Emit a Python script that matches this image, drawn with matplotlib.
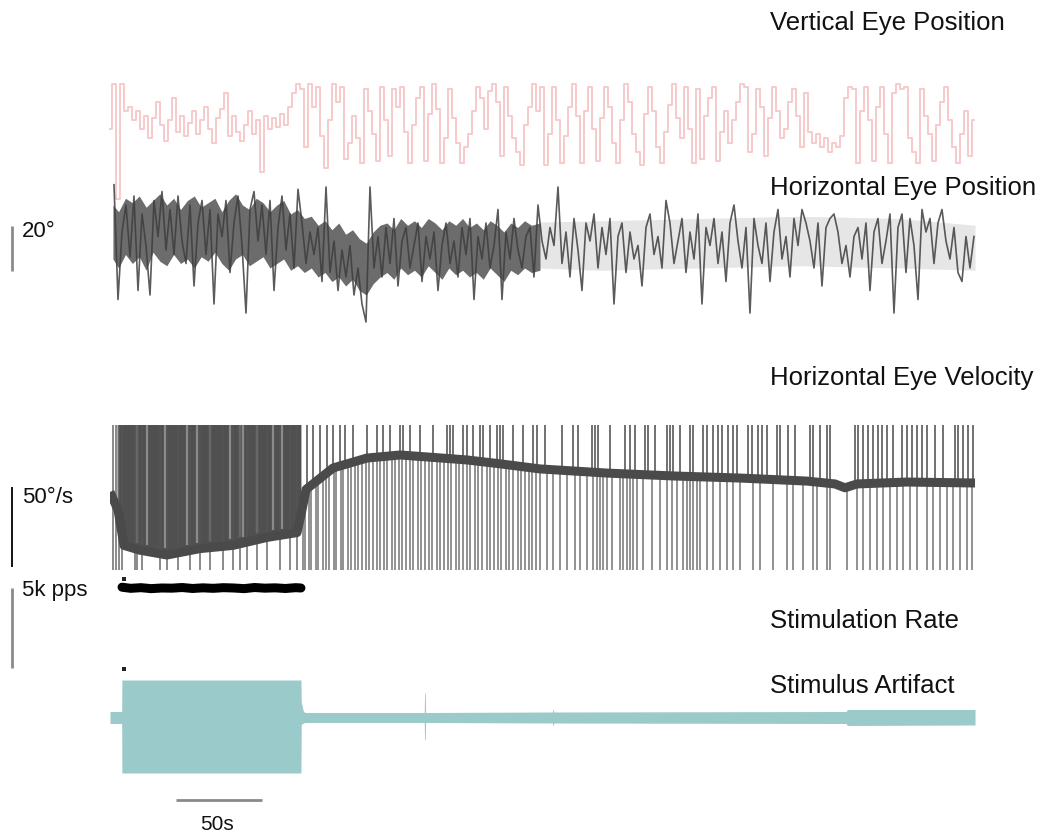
import numpy as np
import matplotlib
matplotlib.use("Agg")
import matplotlib.pyplot as plt

plt.rcParams['font.family'] = ['Liberation Sans', 'DejaVu Sans']

# ---------------- data ----------------
T_END = 505.8          # seconds spanned by the traces' axes
TRACE_END = 502.3      # last sample time of eye-position traces

# vertical eye position (deg), one sample every ~2.3 s
vert_pos = [-2, 18, -33, 18, 6, 8, 2, 6, -2, 4, -6, 3, 10, 0, -7, 2, 12, -3, 4, -5,
            1, 6, -4, 2, 8, -2, -8, 3, 7, 14, -5, 4, -3, -7, 0, 6, -4, 2, -21, 4,
            -2, 3, -1, 5, 0, 8,
            14, 18, 16, -10, 18, 8, 17, -5, -19, 2, 18, 10, 17, -15, -8, 4, -6, -17, 16, 6,
            -4, -16, 17, 2, -14, 16, 8, 17, -3, -17, 0, 12, 17, -16, 5, 18, 7, -17, -6, 16,
            3, -8, -17, -10, -4, 6, 17, 12, -2, 15, 18, 10, -14, 17, 4, -6, -12, -18, 0, 8,
            18, 6, 17, -18, -4, 17, 2, -17, -5, 8, 18, 4, -17, 6, 17, -2, -16, 3, 17, 8,
            -8, -17, 2, 18, 10, -4, -12, -18, 5, 17, 6, -10, -17, -3, 9, 18, 3, -6, 17, -2,
            -17, 16, -15, 4, 12, 17, -16, -3, 6, -8, 2, 10, 18, 17, -12, -4, 16, 8, -14, 3,
            17, 6, -6, -2, 10, 16, 4, -10, 14, -3, -8, -4, -10, -6, -12, -8, -10, -5, 12, 17,
            16, -17, 6, 17, 2, -16, 8, 17, -4, -17, 14, 18, 16, 17, -6, -12, -17, 16, 4, -4,
            -16, 0, 10, 17, 2, -10, -17, -4, 6, -14, 2]

# horizontal eye position (deg), one sample every ~2.3 s
horiz_pos = [0, 29, -22, 8, 20, -3, 24, -18, 16, 2, -20, 22, 6, 26, 0, 18, -2, 24, 4, -6,
             20, -16, 12, 22, -2, 18, -24, 16, 6, 22, -10, 12, 24, 2, -28, 18, 26, 4, 20, -2,
             22, -18, 10, 24, 0, 16, -8, 27,
             12, -6, 8, -2, 10, -14, 28, -10, 4, -18, 0, -12, 2, -20, -8, -24, -32, 28, -8, 6,
             -12, 10, -6, 14, -16, 4, 10, -8, 2, 12, -14, 6, -4, 8, -18, 2, 12, -6, 4, -12,
             10, -2, 14, -22, 6, -4, 12, -8, 2, 18, -22, 8, -4, 14, 0, -8, 6, 10, -12, 20, 4,
             -4, 10, 2, 28, -6, 8, -12, 14, 0, -18, 12, 4, 16, -8, 10, -2, 14, -24, 6, 12,
             -10, 8, -4, 2, -16, 10, 16, -2, 6, -8, 22, 12, -6, 4, 14, -10, 8, -4, 16, -24,
             10, 2, 14, -6, 8, -14, 12, 20, 4, -8, 10, -28, 14, 2, -6, 12, -14, 8, 18, -4,
             6, -12, 14, 2, 18, 12, 4, -8, 12, -16, 10, 14, 16, 8, -6, 2, -12, 6, 10, -4,
             12, -18, 8, 14, -6, 4, 16, -28, 10, 16, -10, 14, 2, -22, 18, 8, 14, -6, 12, 18,
             4, -4, 10, -10, -14, 6, -8, 6]

# envelope of the densely oscillating horizontal position (deg)
hpos_env_t = [1.7, 5, 9, 13, 17, 21, 25, 29, 33, 37, 41, 45, 49, 53, 57, 61, 65, 69, 73,
              77, 81, 85, 89, 93, 97, 101, 105, 109, 113, 117, 121, 125, 129, 133, 137,
              141, 145, 149, 153, 157, 161, 165, 169, 173, 177, 181, 185, 189, 193, 197,
              201, 205, 209, 213, 217, 221, 225, 229, 233, 237, 241, 245, 250]
hpos_env_hi = [20, 17, 23, 21, 24, 19, 22, 25, 20, 23, 18, 22, 24, 19, 21, 23, 17, 22, 25,
               20, 18, 23, 21, 17, 20, 22, 16, 18, 14, 15, 11, 13, 9, 12, 7, 9, 5, 3, 8,
               11, 12, 9, 14, 11, 13, 10, 14, 12, 9, 13, 11, 14, 10, 12, 9, 13, 11, 8, 12,
               10, 13, 11, 12]
hpos_env_lo = [-4, -8, -2, -6, -3, -9, -1, -5, -7, -2, -6, -4, -8, -3, -5, -1, -6, -9, -4,
               -2, -7, -5, -3, -8, -6, -4, -9, -7, -10, -8, -12, -10, -14, -12, -16, -13,
               -18, -20, -15, -12, -10, -13, -8, -11, -9, -12, -7, -10, -13, -8, -11, -9,
               -12, -10, -13, -8, -11, -14, -9, -11, -8, -10, -9]
hpos_env2_t = [250.0, 284.9, 343.0, 401.2, 459.3, 502.9]
hpos_env2_hi = [12.4, 13, 14, 15, 14, 11]
hpos_env2_lo = [-8, -9, -8, -7, -8, -9]

# slow-phase horizontal eye velocity (deg/s)
vel_t = [0, 4.7, 8.1, 17.4, 33.1, 52.3, 71.5, 91.3, 108.7, 111.0, 114.0, 129.7, 149.4,
         168.6, 187.8, 207.6, 226.7, 250.0, 289.0, 327.3, 366.3, 405.2, 421.5, 427.3,
         434.3, 463.4, 502.9]
vel_base = [-10.6, -22, -44, -47, -50, -46, -44, -39, -36, -25, -9, 4.4, 10.6, 12.5, 11,
            9.4, 7, 3.8, 1.2, -0.6, -1.9, -3.8, -5.6, -8, -5.6, -4.4, -5]
quick_peak = 120      # quick-phase peaks (beyond displayed range)
quick_trough = -150

# quick phases during stimulation spanning the full range (s)
stim_saccades = [1.7, 3.5, 5.2, 7.0, 14.5, 15.7, 18.6, 29.1, 33.1, 39.5, 46.5, 52.3, 58.1,
                 65.7, 71.5, 75.6, 79.7, 85.5, 91.3, 98.8, 104.7, 108.7]
stim_window = [1.7, 111.0]
# gaps (lighter strokes) among the dense quick phases during stimulation (s)
stim_gaps = [4.6, 15.7, 21.5, 32.0, 44.8, 50.6, 58.1, 69.8, 75.6, 77.3, 85.5, 94.8, 100.0]

# post-stimulation saccades: upward excursions (s)
sacc_up = [114.5, 118.0, 122.1, 126.2, 129.7, 133.7, 136.6, 141.3, 149.4, 155.2, 158.7,
           162.8, 168.6, 170.3, 174.4, 180.2, 187.8, 195.9, 197.7, 199.4, 205.2, 207.6,
           211.0, 215.1, 216.9, 220.9, 225.0, 226.7, 228.5, 234.3, 240.1, 245.9, 248.3,
           252.9, 262.8, 269.2, 272.1, 280.2, 282.0, 283.7, 290.7, 299.4, 302.3, 305.2,
           311.0, 312.8, 316.9, 323.8, 325.6, 327.3, 331.4, 337.2, 339.0, 344.8, 347.1,
           350.6, 353.5, 355.8, 359.3, 362.2, 364.5, 370.9, 373.3, 376.7, 379.1, 382.0,
           387.8, 389.5, 394.2, 398.3, 407.0, 408.7, 412.8, 416.9, 418.6, 433.1, 434.9,
           437.8, 440.7, 443.6, 446.5, 448.8, 451.7, 455.2, 460.5, 463.4, 466.3, 469.2,
           472.1, 475.0, 479.7, 484.3, 491.3, 493.0, 495.9, 498.8, 501.7]
# post-stimulation saccades: downward excursions (s)
sacc_down = [112.2, 113.4, 115.7, 116.9, 119.8, 120.9, 123.8, 125.6, 127.3, 130.2, 131.4,
             134.3, 135.5, 138.4, 140.1, 142.4, 144.2, 146.5, 148.8, 150.6, 152.9, 155.2,
             157.0, 159.3, 161.0, 164.0, 165.7, 168.0, 169.8, 172.1, 174.4, 176.2, 179.1,
             180.8, 183.1, 185.5, 187.2, 190.1, 191.9, 194.2, 196.5, 198.3, 201.2, 202.9,
             205.2, 207.6, 209.3, 212.2, 214.0, 216.3, 219.2, 220.9, 223.3, 225.6, 227.3,
             230.2, 232.0, 234.3, 237.2, 239.0, 241.3, 243.6, 245.3, 247.7,
             250.0, 254.1, 257.6, 261.6, 265.7, 270.3, 273.3, 277.3, 280.8, 283.1, 284.9,
             286.6, 289.0, 291.9, 296.5, 298.3, 300.6, 302.3, 304.1, 306.4, 309.9, 315.1,
             319.8, 323.8, 326.7, 329.7, 333.1, 335.5, 337.2, 339.0, 341.3, 343.0, 347.1,
             350.6, 354.7, 358.7, 362.2, 366.3, 373.8, 377.9, 385.5, 393.6, 397.1, 402.9,
             408.7, 411.1, 416.9, 418.6, 428.5, 434.3, 437.8, 441.9, 445.9, 449.4, 453.5,
             457.6, 461.0, 465.1, 469.2, 475.0, 478.5, 482.6, 486.6, 490.1, 494.2, 498.3,
             501.2]

# stimulation rate (pulses per second)
rate_t = [7, 12, 18, 24, 30, 36, 42, 48, 54, 60, 66, 72, 78, 84, 90, 96, 102, 108, 111]
rate_pps = [5050, 4980, 5020, 4960, 5000, 4990, 5030, 4970, 5010, 4980, 5020, 5000, 4960,
            5030, 4990, 5010, 4970, 5020, 5000]
rate_marks_t = [8.0, 8.0]
rate_marks = [5560, -60]

# stimulus artifact envelope (a.u.)
art_t = [0, 6.8, 6.9, 111.0, 111.2, 112.5, 113.5, 182.7, 182.9, 183.3, 183.5, 257.2,
         257.6, 258.0, 428.0, 428.6, 502.9]
art_hi = [0.6, 0.6, 3.75, 3.75, 1.5, 0.6, 0.5, 0.5, 2.45, 2.45, 0.5, 0.55, 0.9, 0.55,
          0.6, 0.8, 0.8]
art_lo = [-0.6, -0.6, -5.55, -5.55, -0.7, -0.55, -0.5, -0.5, -2.25, -2.25, -0.5, -0.55,
          -0.9, -0.55, -0.6, -0.8, -0.75]

# scale bars
bar_deg = 20
bar_vel = 50
bar_pps = 5000
bar_sec = 50

# ---------------- figure ----------------
W, H = 1042, 835
fig = plt.figure(figsize=(W / 100, H / 100), dpi=100)
fig.patch.set_facecolor('white')


def trace_axes(top_px, bottom_px, ylim):
    ax = fig.add_axes([110 / W, 1 - bottom_px / H, 870 / W, (bottom_px - top_px) / H])
    ax.set_xlim(0, T_END)
    ax.set_ylim(*ylim)
    ax.axis('off')
    ax.patch.set_alpha(0)
    return ax


ax_v = trace_axes(70, 210, (-37.78, 24.44))
ax_h = trace_axes(175, 335, (-37.78, 33.33))
ax_vel = trace_axes(425, 570, (-59.375, 31.25))
ax_r = trace_axes(570, 675, (-437.5, 6125))
ax_a = trace_axes(660, 790, (-7.25, 5.75))

PINK = '#f7caca'
GREY = '#3e3e3e'
TEAL = '#9bcaca'

# vertical eye position
tv = np.linspace(0, TRACE_END, len(vert_pos))
ax_v.plot(tv, vert_pos, color=PINK, lw=1.4, drawstyle='steps-mid', clip_on=False)

# horizontal eye position
th = np.linspace(0, TRACE_END, len(horiz_pos))
ax_h.fill_between(hpos_env_t, hpos_env_lo, hpos_env_hi, color='#333333', alpha=0.72, lw=0)
ax_h.fill_between(hpos_env2_t, hpos_env2_lo, hpos_env2_hi, color='#777777', alpha=0.18, lw=0)
ax_h.plot(th[1:], horiz_pos[1:], color=GREY, lw=1.2, alpha=0.85, clip_on=False)

# horizontal eye velocity
vt = np.array(vel_t)
vb = np.array(vel_base)
m = (vt >= stim_window[0]) & (vt <= stim_window[1])
ax_vel.fill_between(vt[m], vb[m], quick_peak, color='#505050', lw=0)
ax_vel.vlines(stim_gaps, np.interp(stim_gaps, vel_t, vel_base) + 4, quick_peak,
              color='#9a9a9a', lw=1.6, alpha=0.8)
ax_vel.vlines(stim_saccades, quick_trough, quick_peak, color='#555555', lw=1.2, alpha=0.8)
base_up = np.interp(sacc_up, vel_t, vel_base)
base_dn = np.interp(sacc_down, vel_t, vel_base)
ax_vel.vlines(sacc_up, base_up, quick_peak, color='#3f3f3f', lw=1.3, alpha=0.8)
ax_vel.vlines(sacc_down, quick_trough, base_dn, color='#4a4a4a', lw=1.3, alpha=0.65)
ax_vel.plot(vel_t, vel_base, color='#4a4a4a', lw=6.5, solid_capstyle='butt')

# stimulation rate
ax_r.plot(rate_t, rate_pps, color='black', lw=6.5, solid_capstyle='round')
ax_r.scatter(rate_marks_t, rate_marks, s=6, color='#222222', marker='s', lw=0)

# stimulus artifact
ax_a.fill_between(art_t, art_lo, art_hi, color=TEAL, lw=0)

# scale bars
xb = -57
ax_h.plot([xb, xb], [-9.33, -9.33 + bar_deg], color='#8a8a8a', lw=2, clip_on=False,
          solid_capstyle='butt')
ax_vel.plot([xb, xb], [-57.5, -57.5 + bar_vel], color='black', lw=1.3, clip_on=False,
            solid_capstyle='butt')
ax_r.plot([xb, xb], [0, bar_pps], color='#8a8a8a', lw=2, clip_on=False,
          solid_capstyle='butt')
ax_a.plot([38.4, 38.4 + bar_sec], [-8.25, -8.25], color='#8a8a8a', lw=2, clip_on=False,
          solid_capstyle='butt')


def label(x_px, y_px, s, size, ha='left'):
    fig.text(x_px / W, 1 - y_px / H, s, fontsize=size, ha=ha, va='baseline', color='#111111')


BIG = 18.5
label(770, 30, 'Vertical Eye Position', BIG)
label(770, 195, 'Horizontal Eye Position', BIG)
label(770, 385, 'Horizontal Eye Velocity', BIG)
label(770, 628, 'Stimulation Rate', BIG)
label(770, 693, 'Stimulus Artifact', BIG)
label(22, 237, '20°', 16)
label(22, 503, '50°/s', 16)
label(22, 596, '5k pps', 16)
label(217, 830, '50s', 15, ha='center')

fig.savefig('out.png', dpi=100, facecolor='white')
